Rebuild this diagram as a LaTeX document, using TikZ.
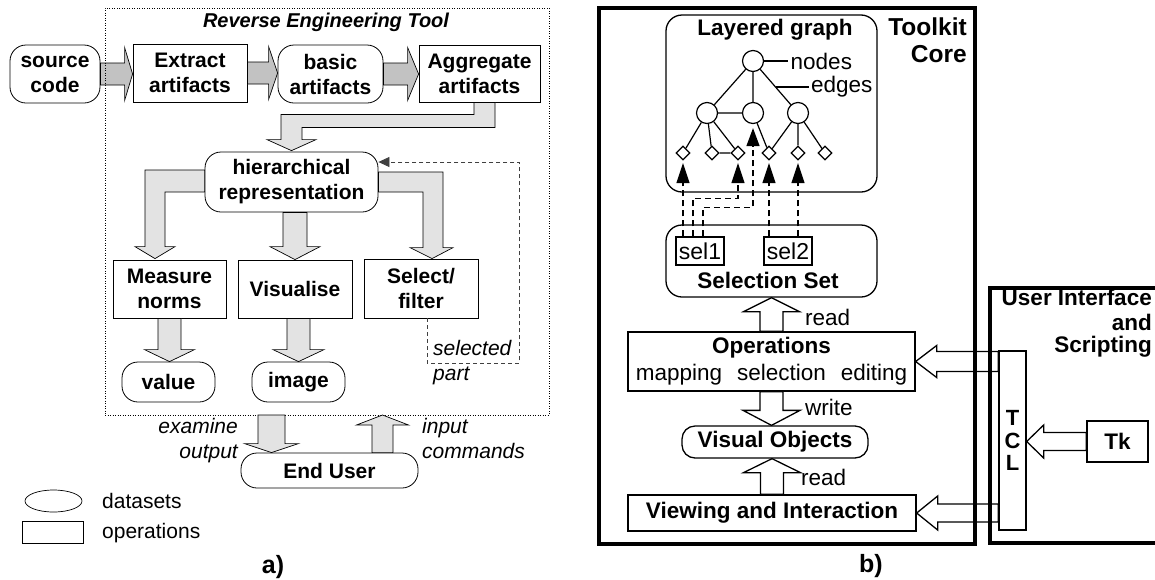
\documentclass[tikz,border=0pt]{standalone}
\usepackage{fontspec}
\setmainfont{Liberation Sans}
\usetikzlibrary{arrows.meta,calc,shapes.geometric}

\newcommand{\lfont}{\fontsize{21}{25}\selectfont}
\newcommand{\rfont}{\fontsize{22.5}{27}\selectfont}
\newcommand{\bigfont}{\fontsize{24.5}{27}\selectfont}

% block arrows: style, from, to, shaft half width, head half width, head length
\newcommand{\blockright}[6]{\draw[#1] let \p1=#2, \p2=#3 in
  (\x1,\y1+#4) -- (\x2-#6,\y1+#4) -- (\x2-#6,\y1+#5) -- (\x2,\y1)
  -- (\x2-#6,\y1-#5) -- (\x2-#6,\y1-#4) -- (\x1,\y1-#4) -- cycle;}
\newcommand{\blockleft}[6]{\draw[#1] let \p1=#2, \p2=#3 in
  (\x1,\y1+#4) -- (\x2+#6,\y1+#4) -- (\x2+#6,\y1+#5) -- (\x2,\y1)
  -- (\x2+#6,\y1-#5) -- (\x2+#6,\y1-#4) -- (\x1,\y1-#4) -- cycle;}
\newcommand{\blockdown}[6]{\draw[#1] let \p1=#2, \p2=#3 in
  (\x1-#4,\y1) -- (\x1-#4,\y2+#6) -- (\x1-#5,\y2+#6) -- (\x1,\y2)
  -- (\x1+#5,\y2+#6) -- (\x1+#4,\y2+#6) -- (\x1+#4,\y1) -- cycle;}
\newcommand{\blockup}[6]{\draw[#1] let \p1=#2, \p2=#3 in
  (\x1-#4,\y1) -- (\x1-#4,\y2-#6) -- (\x1-#5,\y2-#6) -- (\x1,\y2)
  -- (\x1+#5,\y2-#6) -- (\x1+#4,\y2-#6) -- (\x1+#4,\y1) -- cycle;}

\begin{document}
\begin{tikzpicture}[x=1pt,y=-1pt,inner sep=0pt,
  data node/.style={draw,line width=0.8pt,fill=white,rounded corners=16pt,font=\lfont\bfseries,align=center},
  op node/.style={draw,line width=0.8pt,fill=white,font=\lfont\bfseries,align=center},
  gray arrow/.style={draw,line width=0.7pt,fill=black!24},
  light arrow/.style={draw,line width=0.7pt,fill=black!11},
  white arrow/.style={draw,line width=1.3pt,fill=white},
  feedback/.style={draw=black!75,line width=0.8pt,dash pattern=on 4pt off 3pt,-{Triangle[length=11pt,width=10pt]}},
  frame box/.style={draw,line width=3.5pt},
  round box/.style={draw,line width=1.3pt,fill=white,rounded corners=16pt},
  box/.style={draw,line width=1.3pt,fill=white},
  sel node/.style={draw,line width=1.2pt,fill=white,minimum width=48pt,minimum height=28pt,font=\fontsize{23}{25}\selectfont},
  graph node/.style={circle,draw,line width=1.2pt,fill=white,minimum size=21pt},
  leaf node/.style={diamond,draw,line width=1.2pt,fill=white,minimum size=14pt},
  graph edge/.style={line width=1.2pt},
  sel ref/.style={line width=1.3pt,dash pattern=on 6pt off 4pt,shorten >=2.5pt,-{Triangle[width=13pt,length=20pt]}}]

  \useasboundingbox (0,0) rectangle (1155,579);
  \clip (0,0) rectangle (1155,579);

  % a) reverse engineering tool
  \node[data node,minimum width=90pt,minimum height=58pt] (src) at (55,74) {source\\code};
  \node[op node,minimum width=114pt,minimum height=58pt] (extract) at (190,73) {Extract\\artifacts};
  \node[data node,minimum width=105pt,minimum height=58pt] (basic) at (330.5,74) {basic\\artifacts};
  \node[op node,minimum width=121pt,minimum height=57pt] (aggr) at (479.5,73.5) {Aggregate\\artifacts};
  \node[data node,minimum width=173pt,minimum height=60pt] (hier) at (291.5,182) {hierarchical\\representation};
  \node[op node,minimum width=113pt,minimum height=58pt] (measure) at (169.5,289) {Measure\\norms};
  \node[op node,minimum width=114pt,minimum height=58pt] (visual) at (295,289) {Visualise};
  \node[op node,minimum width=114pt,minimum height=59pt] (select) at (421,288.5) {Select/\\filter};
  \node[data node,minimum width=93pt,minimum height=40pt] (value) at (168.5,382) {value};
  \node[data node,minimum width=93pt,minimum height=40pt] (image) at (298.5,382) {image};
  \node[data node,minimum width=177pt,minimum height=35pt] (user) at (329.5,470.5) {End User};
  \node[anchor=base,font=\fontsize{20}{24}\selectfont\bfseries\itshape] (title) at (326,27) {Reverse Engineering Tool};

  \blockright{gray arrow}{(src.east)}{(extract.west)}{11}{26.5}{8}
  \blockright{gray arrow}{(extract.west -| extract.east)}{(basic.west)}{11}{26.5}{9}
  \blockright{gray arrow}{(basic.east)}{(aggr.west)}{11}{26.5}{11}
  \draw[light arrow] let \p1=(aggr.south), \p2=(hier.north) in
    (\x1-5.5,\y1) -- (\x1-5.5,\y1-12) -- (\x2-10.5,\y1-12) -- (\x2-10.5,\y2+12)
    -- (\x2-24.5,\y2+12) -- (\x2,\y2+1) -- (\x2+24.5,\y2+12) -- (\x2+10.5,\y2+12)
    -- (\x2+10.5,\y1-25) -- (\x1+15.5,\y1-25) -- (\x1+15.5,\y1) -- cycle;
  \draw[light arrow] let \p1=(hier.west), \p2=(measure.north) in
    (\x1,\y1+12) -- (\x2-24.5,\y1+12) -- (\x2-24.5,\y2+13) -- (\x2-34.5,\y2+13)
    -- (\x2-14.5,\y2+1) -- (\x2+5.5,\y2+13) -- (\x2-4.5,\y2+13) -- (\x2-4.5,\y1-10)
    -- (\x1,\y1-10) -- cycle;
  \blockdown{light arrow}{(visual.north |- hier.south)}{(visual.north)}{12}{25}{13}
  \draw[light arrow] let \p1=(hier.east), \p2=(select.north) in
    (\x1,\y1+10) -- (\x2+22,\y1+10) -- (\x2+22,\y2+11) -- (\x2+32,\y2+11)
    -- (\x2+11,\y2) -- (\x2-11,\y2+11) -- (\x2+2,\y2+11) -- (\x2+2,\y1-10)
    -- (\x1,\y1-10) -- cycle;
  \blockdown{light arrow}{(measure.south)}{(measure.south |- value.north)}{11.5}{25}{12}
  \blockdown{light arrow}{(image.north |- visual.south)}{(image.north)}{11.5}{25.5}{12}

  \coordinate (fb) at (519,162);
  \draw[feedback] ([xshift=6pt]select.south) -- ++(0,45) -| (fb) -- (hier.east |- fb);
  \node[anchor=base west,font=\lfont\itshape] (selected) at (433,355) {selected};
  \node[anchor=base west,font=\lfont\itshape] (part) at (433,380) {part};

  \node[draw,line width=0.7pt,dash pattern=on 0.9pt off 1.6pt,minimum width=444pt,minimum height=407pt] (tool) at (327,211.5) {};

  \coordinate (outp) at (271.5,415);
  \coordinate (inp) at (382.5,415);
  \blockdown{light arrow}{(outp)}{(outp |- user.north)}{13.5}{27}{9}
  \blockup{light arrow}{(inp |- user.north)}{(inp)}{10.5}{26}{10}
  \node[anchor=base east,font=\lfont\itshape] (examine) at (238,433) {examine};
  \node[anchor=base east,font=\lfont\itshape] (output) at (238,458) {output};
  \node[anchor=base west,font=\lfont\itshape] (input) at (422,433) {input};
  \node[anchor=base west,font=\lfont\itshape] (commands) at (422,458) {commands};

  % legend
  \node[draw,ellipse,line width=0.7pt,minimum width=57pt,minimum height=22pt] (legdata) at (53.5,501) {};
  \node[draw,line width=0.7pt,minimum width=61pt,minimum height=22pt] (legop) at (52.5,532) {};
  \node[anchor=base west,font=\lfont] (datasets) at (102,508) {datasets};
  \node[anchor=base west,font=\lfont] (operations) at (102,538) {operations};
  \node[anchor=base,font=\fontsize{25}{30}\selectfont\bfseries] (capa) at (273,573) {a)};

  % b) toolkit core
  \node[anchor=base east,font=\bigfont\bfseries] (toolkit) at (967,35) {Toolkit};
  \node[anchor=base east,font=\bigfont\bfseries] (corelbl) at (967,62) {Core};

  \node[round box,minimum width=211pt,minimum height=177pt] (layered) at (771.5,103.5) {};
  \node[anchor=base,font=\rfont\bfseries] (layeredlbl) at (775,35) {Layered graph};
  \node[graph node] (g0) at (753,61) {};
  \node[graph node] (g1) at (707,113) {};
  \node[graph node] (g2) at (753,113) {};
  \node[graph node] (g3) at (798,113) {};
  \foreach \x [count=\i] in {683,712,738,769,798,825}
    \node[leaf node] (l\i) at (\x,153) {};
  \draw[graph edge] (g0) -- (g1) (g0) -- (g2) (g0) -- (g3) (g1) -- (g2)
    (g1) -- (l1) (g1) -- (l2) (g1) -- (l3) (l2) -- (l3)
    (g2) -- (l4) (g3) -- (l4) (g3) -- (l5) (g3) -- (l6);
  \coordinate (ed) at ($(g0)!0.5!(g3)$);
  \draw[graph edge] (g0.east) -- ++(24,0) node[anchor=west,font=\rfont,inner sep=2pt] (nodeslbl) {nodes};
  \draw[graph edge] (ed) -- ++(33,0) node[anchor=west,font=\rfont,inner sep=2pt] (edgeslbl) {edges};

  \node[round box,minimum width=211pt,minimum height=72pt] (selset) at (771.5,261) {};
  \node[anchor=base,font=\rfont\bfseries] (selsetlbl) at (768,288) {Selection Set};
  \node[sel node] (sel1) at (700,251) {sel1};
  \node[sel node] (sel2) at (788,251) {sel2};

  \draw[sel ref] (l1 |- sel1.north) -- (l1.south);
  \draw[sel ref] ([xshift=-7pt]sel1.north) -- ++(0,-38) -| (l3.south);
  \draw[sel ref,shorten >=4pt,-{Triangle[width=13pt,length=18pt]}] ([xshift=3pt]sel1.north) -- ++(0,-29) -| (g2.south);
  \draw[sel ref] (l4 |- sel2.north) -- (l4.south);
  \draw[sel ref] (l5 |- sel2.north) -- (l5.south);

  \node[box,minimum width=287pt,minimum height=59pt,align=center,font=\rfont] (ops) at (771.5,361.5)
    {\textbf{Operations}\\mapping\hspace{15pt}selection\hspace{15pt}editing};
  \node[round box,rounded corners=13pt,minimum width=186pt,minimum height=32pt,font=\rfont\bfseries] (visobj) at (775,442) {Visual Objects};
  \node[box,minimum width=288pt,minimum height=36pt,font=\rfont\bfseries] (view) at (772,513) {Viewing and Interaction};

  \blockup{white arrow}{(ops.north)}{(ops.north |- selset.south)}{11.5}{28}{14}
  \blockdown{white arrow}{(ops.south)}{(ops.south |- visobj.north)}{11.5}{28.5}{15}
  \blockup{white arrow}{(view.north)}{(view.north |- visobj.south)}{11.5}{28.5}{14}
  \node[anchor=base west,font=\rfont] (read1) at (805,325) {read};
  \node[anchor=base west,font=\rfont] (write) at (805,415) {write};
  \node[anchor=base west,font=\rfont] (read2) at (801,485) {read};

  % user interface and scripting
  \node[box,minimum width=27pt,minimum height=179pt,align=center,font=\fontsize{22}{22.5}\selectfont\bfseries] (tcl) at (1012.5,440.5) {T\\C\\L};
  \node[box,minimum width=61pt,minimum height=41pt,font=\rfont\bfseries] (tk) at (1117.5,441.5) {Tk};
  \blockleft{white arrow}{(tcl.west |- ops.east)}{(ops.east)}{10}{16}{21}
  \blockleft{white arrow}{(tcl.west |- view.east)}{(view.east)}{9}{17}{21}
  \blockleft{white arrow}{(tk.west)}{(tcl.east |- tk.west)}{9}{16.5}{17}
  \node[anchor=base east,font=\rfont\bfseries] (uilbl) at (1152,305) {User Interface};
  \node[anchor=base east,font=\rfont\bfseries] (andlbl) at (1152,330) {and};
  \node[anchor=base east,font=\rfont\bfseries] (scriptlbl) at (1152,352) {Scripting};

  \node[frame box,minimum width=376pt,minimum height=536pt] (core) at (787,276) {};
  \node[frame box,minimum width=240pt,minimum height=255pt] (ui) at (1110,415.5) {};
  \node[anchor=base,font=\fontsize{25}{30}\selectfont\bfseries] (capb) at (871,572) {b)};

\end{tikzpicture}
\end{document}
